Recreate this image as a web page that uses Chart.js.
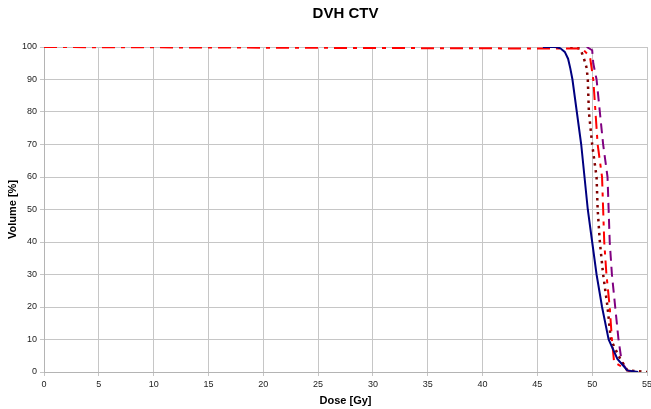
<!DOCTYPE html>
<html>
<head>
<meta charset="utf-8">
<script src="https://cdn.jsdelivr.net/npm/chart.js@4/dist/chart.umd.min.js"></script>
<style>
  html, body { margin: 0; padding: 0; background: #ffffff; }
  #wrap { width: 651px; height: 409px; position: relative; }
</style>
</head>
<body>
<div id="wrap"><canvas id="c" width="651" height="409"></canvas></div>
<script>
// ---- Data ----
const chartTitle = 'DVH CTV';
const xTitle = 'Dose [Gy]';
const yTitle = 'Volume [%]';
const xTicks = [0, 5, 10, 15, 20, 25, 30, 35, 40, 45, 50, 55];
const yTicks = [0, 10, 20, 30, 40, 50, 60, 70, 80, 90, 100];

const seriesNames = ['Plan A', 'Plan B', 'Plan C', 'Plan D'];

const blueDose = [45.5, 46.5, 46.8, 47.1, 47.5, 47.8, 48.0, 48.2, 48.6, 49.0, 49.3, 49.6, 50.0, 50.4, 50.9, 51.5, 52.3, 53.2, 54.2];
const blueVol  = [100, 100, 99.9, 99.6, 98.5, 96.4, 93.5, 90, 80, 70, 60, 50, 40, 30, 20, 10, 4, 0.5, 0];

const redDose = [0, 49.1, 49.8, 50.1, 50.3, 50.5, 50.9, 51.0, 51.1, 51.3, 51.6, 51.8, 52.0, 53.5];
const redVol  = [100, 99.5, 97, 90, 80, 70, 60, 50, 40, 30, 20, 10, 3, 0];

const maroonDose = [48.0, 48.9, 49.2, 49.5, 49.6, 49.7, 50.0, 50.4, 50.5, 50.7, 51.0, 51.4, 51.7, 52.4, 53.2, 55];
const maroonVol  = [100, 99.5, 97, 93.5, 90, 80, 70, 60, 50, 40, 30, 20, 10, 5, 0.5, 0];

const purpleDose = [49.5, 50.0, 50.1, 50.4, 50.7, 51.0, 51.4, 51.5, 51.6, 51.8, 52.1, 52.4, 52.7, 53.3, 54.0];
const purpleVol  = [100, 99, 95, 90, 80, 70, 60, 50, 40, 30, 20, 10, 3, 0, 0];

function zip(xs, ys) { return xs.map((x, i) => ({ x: x, y: ys[i] })); }

const FONT = "'Liberation Sans', Arial, Helvetica, sans-serif";

// center the chart title over the plot area (as in the reference)
const titleOverPlot = {
  id: 'titleOverPlot',
  afterLayout(chart) {
    const tb = chart.titleBlock;
    if (tb) {
      tb.left = chart.chartArea.left;
      tb.right = chart.chartArea.right;
      tb.width = tb.right - tb.left;
    }
  }
};

new Chart(document.getElementById('c'), {
  type: 'line',
  data: {
    datasets: [
      { label: seriesNames[0], data: zip(blueDose, blueVol), borderColor: '#000080', borderWidth: 2, pointRadius: 0, tension: 0 },
      { label: seriesNames[1], data: zip(redDose, redVol), borderColor: '#ff0000', borderWidth: 2, borderDash: [13, 6, 4, 6], pointRadius: 0, tension: 0 },
      { label: seriesNames[2], data: zip(maroonDose, maroonVol), borderColor: '#800000', borderWidth: 2.5, borderDash: [2.5, 4.5], pointRadius: 0, tension: 0 },
      { label: seriesNames[3], data: zip(purpleDose, purpleVol), borderColor: '#800080', borderWidth: 2, borderDash: [10, 6], pointRadius: 0, tension: 0 }
    ]
  },
  options: {
    responsive: false,
    animation: false,
    layout: { padding: { top: 0, left: 0, right: 4, bottom: 0 } },
    plugins: {
      legend: { display: false },
      tooltip: { enabled: false },
      title: {
        display: true,
        text: chartTitle,
        color: '#000000',
        font: { family: FONT, size: 15, weight: 'bold' },
        padding: { top: 5, bottom: 24 }
      }
    },
    scales: {
      x: {
        type: 'linear',
        min: xTicks[0],
        max: xTicks[xTicks.length - 1],
        afterBuildTicks(scale) { scale.ticks = xTicks.map(v => ({ value: v })); },
        afterFit(scale) { scale.height = 37; scale.paddingLeft = 0; scale.paddingRight = 0; },
        grid: { color: '#c6c6c6', lineWidth: 1, tickLength: 4, drawTicks: true },
        border: { color: '#b4b4b4' },
        ticks: { color: '#222222', font: { family: FONT, size: 9 }, padding: 3, maxRotation: 0, autoSkip: false },
        title: { display: true, text: xTitle, color: '#000000', font: { family: FONT, size: 11, weight: 'bold' }, padding: { top: 0, bottom: 1 } }
      },
      y: {
        type: 'linear',
        min: yTicks[0],
        max: yTicks[yTicks.length - 1],
        afterBuildTicks(scale) { scale.ticks = yTicks.map(v => ({ value: v })); },
        afterFit(scale) { scale.width = 44; scale.paddingTop = 0; scale.paddingBottom = 0; },
        grid: { color: '#c6c6c6', lineWidth: 1, tickLength: 4, drawTicks: true },
        border: { color: '#b4b4b4' },
        ticks: { color: '#222222', font: { family: FONT, size: 9 }, padding: 3, autoSkip: false },
        title: { display: true, text: yTitle, color: '#000000', font: { family: FONT, size: 11, weight: 'bold' }, padding: { top: 6, bottom: 0 } }
      }
    }
  },
  plugins: [titleOverPlot]
});
</script>
</body>
</html>
